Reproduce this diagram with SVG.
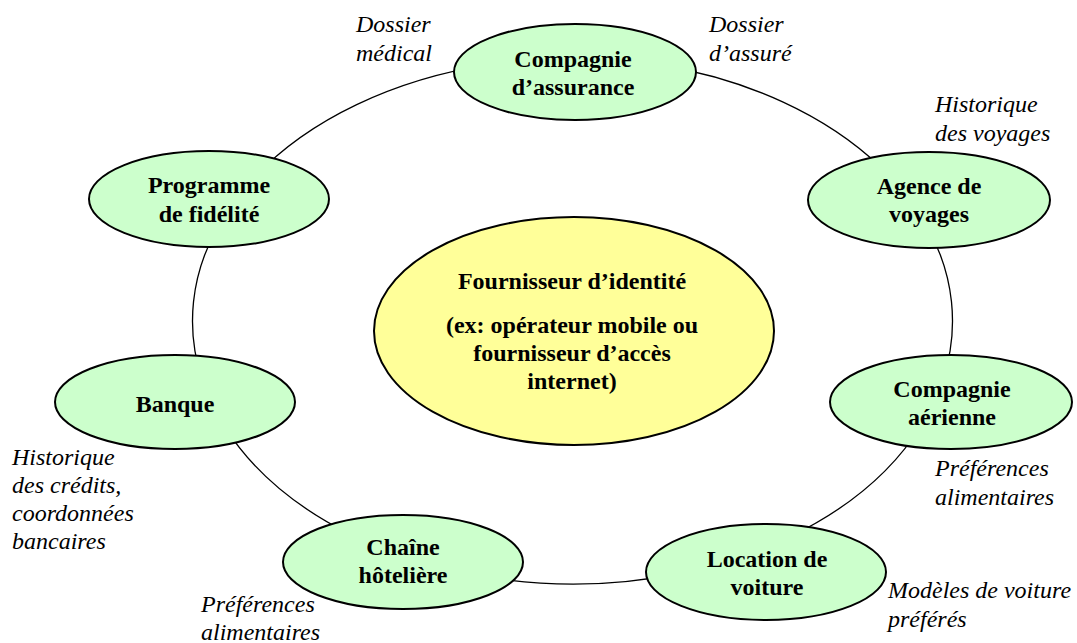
<svg xmlns="http://www.w3.org/2000/svg" width="1077" height="643" viewBox="0 0 1077 643">
<style>
.node{fill:#CCFFCC;stroke:#000;stroke-width:2}
.center{fill:#FFFF99;stroke:#000;stroke-width:2}
.conn{fill:none;stroke:#000;stroke-width:1.3}
.t{font-family:"Liberation Serif","Times New Roman",serif;font-size:24px;font-weight:bold;text-anchor:middle;fill:#000}
.lbl{font-family:"Liberation Serif","Times New Roman",serif;font-size:24px;font-style:italic;fill:#000}
</style>
<rect width="1077" height="643" fill="#fff"/>
<g id="connectors">
<path class="conn" d="M660,65 A380,263 0 0 1 880,166.5"/>
<path class="conn" d="M926.3,225 A380,263 0 0 1 942.8,380"/>
<path class="conn" d="M921.5,425 A380,263 0 0 1 790,536.7"/>
<path class="conn" d="M680,573.3 A380,263 0 0 1 480,576"/>
<path class="conn" d="M350,534.2 A380,263 0 0 1 225,427.4"/>
<path class="conn" d="M202.2,380 A380,263 0 0 1 218.7,225"/>
<path class="conn" d="M255,176.5 A380,263 0 0 1 490,64.3"/>
</g>
<g id="fournisseur">
<ellipse class="center" cx="574" cy="331" rx="200" ry="114"/>
<text class="t" x="572" y="289">Fournisseur d’identité</text>
<text class="t" x="572" y="333">(ex: opérateur mobile ou</text>
<text class="t" x="572" y="361">fournisseur d’accès</text>
<text class="t" x="572" y="389">internet)</text>
</g>
<g id="assurance">
<ellipse class="node" cx="575" cy="72" rx="121" ry="48"/>
<text class="t" x="573" y="67">Compagnie</text>
<text class="t" x="573" y="95">d’assurance</text>
</g>
<g id="agence">
<ellipse class="node" cx="929" cy="200" rx="121" ry="48"/>
<text class="t" x="929" y="194">Agence de</text>
<text class="t" x="929" y="222">voyages</text>
</g>
<g id="aerienne">
<ellipse class="node" cx="951" cy="402" rx="121" ry="47"/>
<text class="t" x="952" y="397">Compagnie</text>
<text class="t" x="952" y="425">aérienne</text>
</g>
<g id="location">
<ellipse class="node" cx="766" cy="572" rx="120" ry="48"/>
<text class="t" x="767" y="567">Location de</text>
<text class="t" x="767" y="595">voiture</text>
</g>
<g id="hotel">
<ellipse class="node" cx="403" cy="562" rx="120" ry="47"/>
<text class="t" x="403" y="555">Chaîne</text>
<text class="t" x="403" y="583">hôtelière</text>
</g>
<g id="banque">
<ellipse class="node" cx="175" cy="402" rx="120" ry="47"/>
<text class="t" x="175" y="412">Banque</text>
</g>
<g id="fidelite">
<ellipse class="node" cx="209" cy="199" rx="120" ry="48"/>
<text class="t" x="209" y="193">Programme</text>
<text class="t" x="209" y="222">de fidélité</text>
</g>
<g id="labels">
<text class="lbl" x="356" y="32">Dossier</text>
<text class="lbl" x="356" y="61">médical</text>
<text class="lbl" x="709" y="32">Dossier</text>
<text class="lbl" x="709" y="61">d’assuré</text>
<text class="lbl" x="935" y="112">Historique</text>
<text class="lbl" x="935" y="141">des voyages</text>
<text class="lbl" x="935" y="476">Préférences</text>
<text class="lbl" x="935" y="505">alimentaires</text>
<text class="lbl" x="888" y="598">Modèles de voiture</text>
<text class="lbl" x="888" y="627">préférés</text>
<text class="lbl" x="12" y="465">Historique</text>
<text class="lbl" x="12" y="493">des crédits,</text>
<text class="lbl" x="12" y="521">coordonnées</text>
<text class="lbl" x="12" y="549">bancaires</text>
<text class="lbl" x="201" y="612">Préférences</text>
<text class="lbl" x="201" y="640">alimentaires</text>
</g>
</svg>
